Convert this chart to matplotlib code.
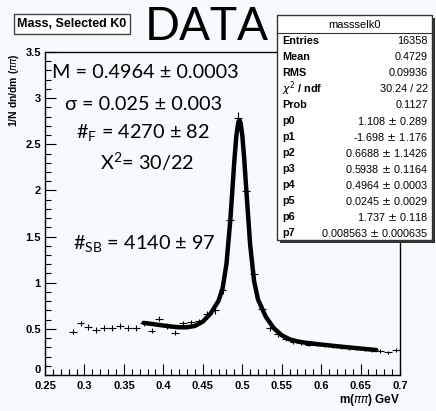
import matplotlib
matplotlib.use("Agg")
import matplotlib.pyplot as plt
from matplotlib.ticker import MultipleLocator
import numpy as np

# histogram points (bin centre, value)
bin_x = [0.285, 0.295, 0.305, 0.315, 0.325, 0.335, 0.345, 0.355, 0.365, 0.375,
         0.385, 0.395, 0.405, 0.415, 0.425, 0.435, 0.445, 0.455, 0.465, 0.475,
         0.485, 0.495, 0.505, 0.515, 0.525, 0.535, 0.545, 0.555, 0.565, 0.575,
         0.585, 0.595, 0.605, 0.615, 0.625, 0.635, 0.645, 0.655, 0.665, 0.675,
         0.685, 0.695]
bin_y = [0.47, 0.56, 0.52, 0.49, 0.51, 0.51, 0.53, 0.51, 0.51, 0.56,
         0.48, 0.61, 0.53, 0.46, 0.56, 0.57, 0.58, 0.66, 0.70, 0.92,
         1.68, 2.79, 1.99, 1.09, 0.72, 0.51, 0.44, 0.39, 0.36, 0.35,
         0.33, 0.33, 0.32, 0.31, 0.30, 0.29, 0.29, 0.28, 0.27, 0.26,
         0.245, 0.27]
bin_err = [0.03, 0.03, 0.03, 0.03, 0.03, 0.03, 0.03, 0.03, 0.03, 0.03,
           0.03, 0.03, 0.03, 0.03, 0.03, 0.03, 0.03, 0.03, 0.035, 0.04,
           0.05, 0.06, 0.05, 0.04, 0.035, 0.03, 0.03, 0.025, 0.025, 0.025,
           0.02, 0.02, 0.02, 0.02, 0.02, 0.02, 0.02, 0.02, 0.02, 0.02,
           0.02, 0.02]

# fit curve
fit_x = [0.375, 0.39, 0.40, 0.41, 0.42, 0.43, 0.44, 0.45, 0.46, 0.47, 0.475,
         0.48, 0.485, 0.49, 0.4925, 0.495, 0.4964, 0.498, 0.50, 0.5025, 0.505,
         0.51, 0.515, 0.52, 0.53, 0.54, 0.55, 0.56, 0.57, 0.58, 0.60, 0.62,
         0.64, 0.67]
fit_y = [0.565, 0.548, 0.536, 0.525, 0.517, 0.517, 0.532, 0.578, 0.666, 0.805, 0.935,
         1.20, 1.69, 2.32, 2.585, 2.739, 2.761, 2.729, 2.604, 2.347, 2.028,
         1.417, 1.02, 0.818, 0.629, 0.508, 0.431, 0.387, 0.364, 0.350, 0.330, 0.312,
         0.295, 0.2705]

stat_names = ["Entries", "Mean", "RMS", "$\\chi^2$ / ndf", "Prob", "p0", "p1", "p2",
              "p3", "p4", "p5", "p6", "p7"]
stat_values = ["16358", "0.4729", "0.09936", "30.24 / 22", "0.1127",
               "1.108 $\\pm$ 0.289", "-1.698 $\\pm$ 1.176", "0.6688 $\\pm$ 1.1426",
               "0.5938 $\\pm$ 0.1164", "0.4964 $\\pm$ 0.0003", "0.0245 $\\pm$ 0.0029",
               "1.737 $\\pm$ 0.118", "0.008563 $\\pm$ 0.000635"]

bg = "#f5fbfd"
W, H = 436, 411
fig = plt.figure(figsize=(W / 100, H / 100), dpi=100, facecolor=bg)
ax = fig.add_axes([45 / W, 1 - 375 / H, 355 / W, 323 / H], facecolor=bg)

ax.errorbar(bin_x, bin_y, yerr=bin_err, xerr=0.005, fmt="none", ecolor="black",
            elinewidth=0.8, capsize=0)
ax.plot(fit_x, fit_y, color="black", lw=3.2, solid_capstyle="round")

ax.set_xlim(0.25, 0.7)
ax.set_ylim(0, 3.5)
ax.xaxis.set_minor_locator(MultipleLocator(0.01))
ax.yaxis.set_minor_locator(MultipleLocator(0.1))
ax.tick_params(which="both", direction="in", top=False, right=False, width=0.8)
ax.tick_params(which="major", length=8, pad=3)
ax.tick_params(axis="x", which="major", pad=4)
ax.tick_params(which="minor", length=4)
ax.set_xticks([0.25, 0.3, 0.35, 0.4, 0.45, 0.5, 0.55, 0.6, 0.65, 0.7])
ax.set_xticklabels(["0.25", "0.3", "0.35", "0.4", "0.45", "0.5", "0.55", "0.6", "0.65", "0.7"],
                   fontfamily="Liberation Sans", fontweight="bold", fontsize=8)
ax.set_yticks([0, 0.5, 1, 1.5, 2, 2.5, 3, 3.5])
ax.set_yticklabels(["0", "0.5", "1", "1.5", "2", "2.5", "3", "3.5"],
                   fontfamily="Liberation Sans", fontweight="bold", fontsize=8)
ax.get_yticklabels()[0].set_verticalalignment("bottom")
for s in ax.spines.values():
    s.set_linewidth(1.0)

fig.text(400 / W, 1 - 400 / H, "m($\\pi\\pi$) GeV", ha="right", va="center",
         fontsize=8.5, fontweight="bold", family="Liberation Sans")
fig.text(14 / W, 1 - 53 / H, "1/N dn/dm ($\\pi\\pi$)", ha="center", va="top",
         rotation=90, fontsize=7.5, fontweight="bold", family="Liberation Sans")

# title box and big label
fig.text(72 / W, 1 - 24 / H, "Mass, Selected K0", ha="center", va="center",
         fontsize=9, fontweight="bold", family="Liberation Sans",
         bbox=dict(boxstyle="square,pad=0.3", fc="white", ec="#444444", lw=1))
fig.text(207 / W, 1 - 27 / H, "DATA", ha="center", va="center", fontsize=33,
         family="Lato")

# fit results written on the plot
big = dict(fontsize=14.3, family="Lato", ha="left", va="center", transform=fig.transFigure)
fig.text(52 / W, 1 - 73 / H, "M = 0.4964 ± 0.0003", **big)
fig.text(65 / W, 1 - 104 / H, "σ = 0.025 ± 0.003", **big)
fig.text(76 / W, 1 - 133 / H, "#$_{\\mathregular{F}}$ = 4270 ± 82", **big)
fig.text(100 / W, 1 - 162 / H, "X$^{\\mathregular{2}}$= 30/22", **big)
fig.text(73 / W, 1 - 244 / H, "#$_{\\mathregular{SB}}$ = 4140 ± 97", **big)

# stats box
bx0, by0, bx1, by1 = 277, 15, 432, 240
shadow = plt.Rectangle((bx0 + 2.5, H - by1 - 2.5), bx1 - bx0, by1 - by0,
                       transform=None, fc="#333333", ec="none", zorder=4)
fig.patches.append(shadow)
box = plt.Rectangle((bx0, H - by1), bx1 - bx0, by1 - by0, transform=None,
                    fc="white", ec="#333333", lw=1, zorder=5)
fig.patches.append(box)
fig.text((bx0 + bx1) / 2 / W, 1 - 25 / H, "massselk0", ha="center", va="center",
         fontsize=8, family="Liberation Sans", zorder=6)
fig.add_artist(plt.Line2D([bx0 / W, bx1 / W], [1 - 33 / H, 1 - 33 / H],
                          color="#333333", lw=0.8, zorder=6))
for i, (name, val) in enumerate(zip(stat_names, stat_values)):
    yy = 1 - (41 + 16 * i) / H
    fig.text((bx0 + 5) / W, yy, name, ha="left", va="center", fontsize=7.8,
             fontweight="bold", family="Liberation Sans", zorder=6)
    fig.text((bx1 - 4) / W, yy, val, ha="right", va="center", fontsize=7.8,
             family="Liberation Sans", zorder=6)

fig.savefig("out.png", dpi=100, facecolor=bg)
